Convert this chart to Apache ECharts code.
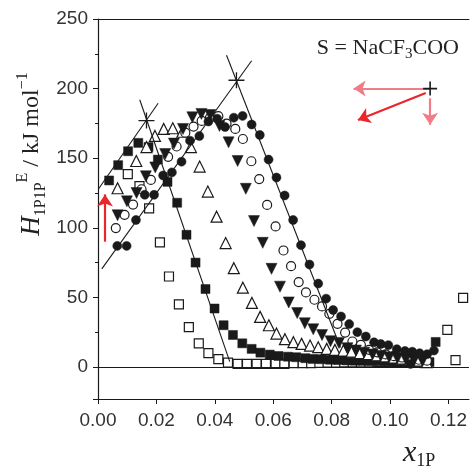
<!DOCTYPE html>
<html>
<head>
<meta charset="utf-8">
<script src="https://cdn.jsdelivr.net/npm/echarts@6/dist/echarts.min.js"></script>
<style>html,body{margin:0;padding:0;background:#fff}#c{width:470px;height:473px}</style>
</head>
<body>
<div id="c"></div>
<script>
// ---- data (x1P, H / kJ mol-1) ----
const filledSquares = [[0.0038,134],[0.0069,145],[0.0103,155],[0.0138,161],[0.0173,158],[0.0205,149],[0.0238,133],[0.0271,118],[0.0303,95],[0.0334,75],[0.0368,56],[0.0399,42],[0.043,30],[0.0462,23],[0.0494,17],[0.0526,13],[0.0556,10.3],[0.0588,8.9],[0.0618,7.9],[0.065,7.4],[0.0679,7.0],[0.071,6.3],[0.0735,5.8],[0.0765,5.6],[0.0795,5.2],[0.0823,5.0],[0.0852,4.7],[0.088,4.5],[0.0908,4.4],[0.0937,4.2],[0.0965,4.1],[0.0993,4.0],[0.1022,3.9],[0.105,3.8],[0.1079,3.7],[0.1107,3.6],[0.1135,3.5],[0.1156,18]];
const openSquares = [[0.0102,138.5],[0.0142,130],[0.0175,114],[0.0212,89.5],[0.0243,65],[0.0277,45],[0.0311,28.6],[0.0345,17],[0.0378,10],[0.0412,5.6],[0.0445,3.2],[0.0478,2.2],[0.051,2.2],[0.0543,2.2],[0.0575,2.2],[0.0608,2.2],[0.0638,2.2],[0.067,2.7],[0.0701,2.7],[0.073,2.7],[0.0758,2.9],[0.0786,3.2],[0.0815,3.2],[0.0843,3.3],[0.0872,3.3],[0.09,3.4],[0.0929,3.4],[0.0957,3.5],[0.0986,3.5],[0.1014,3.5],[0.1043,3.6],[0.1071,3.6],[0.11,3.7],[0.1196,26.7],[0.1224,5],[0.125,49.6]];
const openTriangles = [[0.0067,128.4],[0.0131,148],[0.0166,158],[0.0195,166],[0.0225,171],[0.0256,171.5],[0.0289,169],[0.0318,158],[0.0348,144],[0.0376,126],[0.0406,108],[0.0437,89],[0.0465,71],[0.0496,57],[0.0527,46],[0.0555,36],[0.0585,30],[0.0611,24],[0.064,20],[0.0669,17.8],[0.0697,16.6],[0.0726,15.4],[0.0754,14.2],[0.0783,13],[0.0811,12.3],[0.084,11.8],[0.0868,11],[0.0897,10],[0.0925,9.2],[0.0954,8.4],[0.0982,7.6],[0.1011,6.8],[0.1039,6],[0.1068,5.2],[0.1096,4.5],[0.1125,3.5]];
const openCircles = [[0.0061,99.8],[0.0091,109.3],[0.012,116.7],[0.0149,127.7],[0.0181,134.4],[0.024,151],[0.0269,158.4],[0.0299,168.3],[0.0327,172.7],[0.0355,176.8],[0.0383,179],[0.0412,180.2],[0.044,174.8],[0.047,171],[0.0496,163.8],[0.0525,147.8],[0.0552,135],[0.0579,116.4],[0.0608,101],[0.0635,83.7],[0.0661,72.4],[0.0687,61],[0.0712,53.6],[0.0741,48.3],[0.0767,43.5],[0.0792,38.2],[0.082,31],[0.0846,24.7],[0.0871,18.3],[0.09,15.9],[0.0928,12.3],[0.0956,10.5],[0.0985,9],[0.1013,7.8],[0.1041,6.8],[0.107,6],[0.1098,5.2],[0.1126,4.5]];
const filledDownTriangles = [[0.0067,109],[0.0099,119],[0.0132,125],[0.0164,137],[0.0196,143.4],[0.023,153],[0.026,160.5],[0.0291,171],[0.0323,179.4],[0.0354,181.8],[0.0384,181],[0.0416,173.2],[0.0447,161.4],[0.0478,148],[0.0506,128],[0.0534,104.8],[0.0564,89.2],[0.0594,70.5],[0.0623,57.7],[0.0653,46.4],[0.0682,38.7],[0.0708,31.4],[0.0737,27.1],[0.0767,22.9],[0.0796,18.5],[0.0825,17.3],[0.0854,13.5],[0.0883,11.8],[0.0911,10.3],[0.094,9.0],[0.0968,7.9],[0.0997,7.0],[0.1025,6.2],[0.1054,5.5],[0.1082,4.8],[0.1111,4.2]];
const filledCircles = [[0.0066,87],[0.0098,87],[0.013,105.6],[0.016,123.7],[0.0192,123.7],[0.0223,137.6],[0.0253,139.8],[0.0286,147.5],[0.0315,162.6],[0.0347,165.9],[0.0378,176.4],[0.0408,178.4],[0.0435,172.4],[0.0465,179.1],[0.0495,180.4],[0.0526,174.2],[0.0554,166.7],[0.0584,149],[0.0611,136.1],[0.0639,123.2],[0.0668,105.6],[0.0695,87.5],[0.0724,73.6],[0.0754,59.9],[0.0781,49.1],[0.0805,40.9],[0.0832,36.3],[0.086,30.8],[0.0888,25],[0.0917,21.9],[0.0945,17.7],[0.0968,16.5],[0.0994,15.7],[0.1023,12.8],[0.1051,11.5],[0.107,2.2],[0.1076,11],[0.1101,9.9],[0.1127,9.2],[0.115,11.8]];
const lineA = [[0.0013,70.5],[0.0526,220]];
const lineB = [[0.0440,224],[0.0830,14]];
const lineC = [[0.0001,127.7],[0.0206,189.5]];
const lineD = [[0.0143,192],[0.0451,3.8]];
const starPoints = [[0.0166,177],[0.0474,206]];
const plusPoint = [[0.1137,200]];
const arrowRedUp = [[0.0024,90],[0.0024,124]];
const arrowPinkLeft = [[0.1137,200],[0.0875,200]];
const arrowPinkDown = [[0.1137,193],[0.1137,174]];
const arrowRedDiag = [[0.1122,196.8],[0.089,177.5]];
const xTicks = [0, 0.02, 0.04, 0.06, 0.08, 0.10, 0.12];

const chart = echarts.init(document.getElementById('c'));
const INK = '#1a1a1a';
const PLUS = 'path://M0,5L10,5M5,0L5,10';
function scatter(data, symbol, filled, size, rotate) {
  return {
    type: 'scatter', data: data, symbol: symbol, symbolSize: size, symbolRotate: rotate || 0,
    itemStyle: filled ? {color: INK, borderColor: INK, borderWidth: 0.5, opacity: 1} : {color: '#fff', borderColor: INK, borderWidth: 1.2, opacity: 1},
    silent: true, z: 3
  };
}
function straight(data) {
  return {type: 'line', data: data, symbol: 'none', lineStyle: {color: INK, width: 1.1}, silent: true, z: 4};
}
function arrow(coords, color) {
  return {type: 'lines', coordinateSystem: 'cartesian2d', symbol: ['none', 'arrow'], symbolSize: 12,
    lineStyle: {color: color, width: 2.2, opacity: 1}, data: [{coords: coords}], silent: true, z: 5};
}
const serif = '"Liberation Serif", "DejaVu Serif", serif';
chart.setOption({
  animation: false,
  grid: {left: 98, top: 19, right: 0, bottom: 74},
  xAxis: [{
    type: 'value', min: 0, max: 0.127, interval: 0.02, position: 'bottom',
    axisLine: {onZero: false, lineStyle: {color: INK, width: 1.2}},
    axisTick: {show: true, inside: false, length: 5, lineStyle: {color: INK}},
    axisLabel: {showMaxLabel: false, margin: 12, fontSize: 19, color: '#333', fontFamily: '"Liberation Sans", Arial, sans-serif',
      formatter: v => xTicks.some(t => Math.abs(t - v) < 1e-9) ? v.toFixed(2) : ''},
    splitLine: {show: false}
  }, {
    type: 'value', min: 0, max: 0.127, position: 'top',
    axisLine: {show: true, onZero: false, lineStyle: {color: INK, width: 1.2}},
    axisTick: {show: false}, axisLabel: {show: false}, splitLine: {show: false}
  }],
  yAxis: {
    type: 'value', min: -23, max: 250, splitNumber: 5,
    axisLine: {show: true, onZero: false, lineStyle: {color: INK, width: 1.2}},
    axisTick: {show: true, inside: false, length: 5, lineStyle: {color: INK}},
    minorTick: {show: true, splitNumber: 2, length: 3, lineStyle: {color: INK}},
    axisLabel: {showMinLabel: false, margin: 10, fontSize: 19, color: '#333', fontFamily: '"Liberation Sans", Arial, sans-serif'},
    splitLine: {show: false}
  },
  series: [
    Object.assign(straight(lineA), {markLine: {silent: true, symbol: 'none', label: {show: false},
      lineStyle: {color: INK, width: 1.2, type: 'solid'}, data: [{yAxis: 0}]}}),
    straight(lineB), straight(lineC), straight(lineD),
    scatter(openSquares, 'rect', false, 9),
    scatter(filledSquares, 'rect', true, 9),
    scatter(openTriangles, 'triangle', false, 11),
    scatter(openCircles, 'circle', false, 9),
    scatter(filledDownTriangles, 'triangle', true, 11, 180),
    scatter(filledCircles, 'circle', true, 9),
    {type: 'scatter', data: starPoints, symbol: PLUS, symbolSize: 16, itemStyle: {color: 'none', borderColor: INK, borderWidth: 1.3, opacity: 1}, z: 6, silent: true},
    {type: 'scatter', data: plusPoint, symbol: PLUS, symbolSize: 14, itemStyle: {color: 'none', borderColor: INK, borderWidth: 1.6, opacity: 1}, z: 6, silent: true},
    arrow(arrowRedUp, '#e8262b'),
    arrow(arrowPinkLeft, '#f07d86'),
    arrow(arrowPinkDown, '#f07d86'),
    arrow(arrowRedDiag, '#e8262b')
  ],
  graphic: [
    {type: 'text', x: 32, y: 154, rotation: Math.PI / 2, silent: true,
      style: {text: '{h|H}{sub|1P1P}{sup|E}{n| / kJ mol}{sup|−1}', fill: '#222', align: 'center', verticalAlign: 'middle',
        rich: {
          h: {fontFamily: serif, fontStyle: 'italic', fontSize: 27, lineHeight: 34, verticalAlign: 'middle'},
          sub: {fontFamily: serif, fontSize: 16, lineHeight: 34, verticalAlign: 'bottom'},
          sup: {fontFamily: serif, fontSize: 16, lineHeight: 34, verticalAlign: 'top'},
          n: {fontFamily: serif, fontSize: 24, lineHeight: 34, verticalAlign: 'middle'}
        }}},
    {type: 'text', x: 459, y: 48, silent: true,
      style: {text: '{n|S = NaCF}{sub|3}{n|COO}', fill: '#222', align: 'right', verticalAlign: 'middle',
        rich: {
          n: {fontFamily: serif, fontSize: 22, lineHeight: 28, verticalAlign: 'middle'},
          sub: {fontFamily: serif, fontSize: 15, lineHeight: 28, verticalAlign: 'bottom'}
        }}},
    {type: 'text', x: 403, y: 453, silent: true,
      style: {text: '{x|x}{sub|1P}', fill: '#222', align: 'left', verticalAlign: 'middle',
        rich: {
          x: {fontFamily: serif, fontStyle: 'italic', fontSize: 30, lineHeight: 34, verticalAlign: 'middle'},
          sub: {fontFamily: serif, fontSize: 18, lineHeight: 34, verticalAlign: 'bottom'}
        }}}
  ]
});
</script>
</body>
</html>
